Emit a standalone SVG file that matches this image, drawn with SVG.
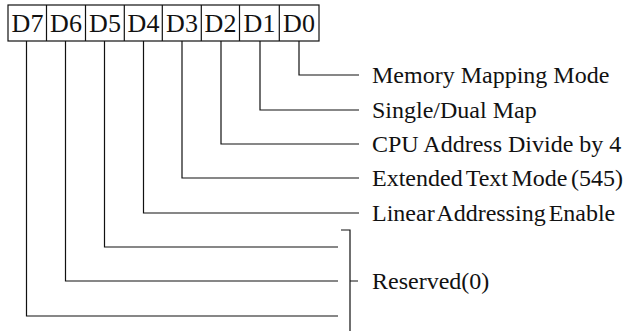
<svg xmlns="http://www.w3.org/2000/svg" width="631" height="331" viewBox="0 0 631 331">
<style>
.ln{fill:none;stroke:#111;stroke-width:1.2}
.bit{font-family:"Liberation Serif",serif;font-size:26px;fill:#111;text-anchor:middle}
.lbl{font-family:"Liberation Serif",serif;font-size:24px;fill:#111}
</style>
<rect width="631" height="331" fill="#fff"/>
<g id="register">
<rect class="ln" x="8" y="5" width="311" height="36"/>
<path class="ln" d="M46.5,5V41M85.5,5V41M124.3,5V41M162.3,5V41M201.3,5V41M239.5,5V41M279.3,5V41"/>
<text class="bit" x="27.5" y="32">D7</text>
<text class="bit" x="66" y="32">D6</text>
<text class="bit" x="105" y="32">D5</text>
<text class="bit" x="143.5" y="32">D4</text>
<text class="bit" x="182" y="32">D3</text>
<text class="bit" x="220.5" y="32">D2</text>
<text class="bit" x="259.5" y="32">D1</text>
<text class="bit" x="299" y="32">D0</text>
</g>
<g id="connectors">
<path class="ln" d="M299,41V75H359"/>
<path class="ln" d="M260,41V110H359"/>
<path class="ln" d="M221,41V144H359"/>
<path class="ln" d="M182,41V178H359"/>
<path class="ln" d="M143.5,41V213H359"/>
<path class="ln" d="M104.5,41V247H338"/>
<path class="ln" d="M65.5,41V281H338"/>
<path class="ln" d="M26.5,41V316H338"/>
<path class="ln" d="M341,230H350V331M350,281H358"/>
</g>
<g id="labels">
<text class="lbl" x="372" y="83">Memory Mapping Mode</text>
<text class="lbl" x="372" y="118">Single/Dual Map</text>
<text class="lbl" x="372" y="152">CPU Address Divide by 4</text>
<text class="lbl" x="372" y="186" word-spacing="-2.5">Extended Text Mode (545)</text>
<text class="lbl" x="372" y="221" word-spacing="-3">Linear Addressing Enable</text>
<text class="lbl" x="372" y="289">Reserved(0)</text>
</g>
</svg>
